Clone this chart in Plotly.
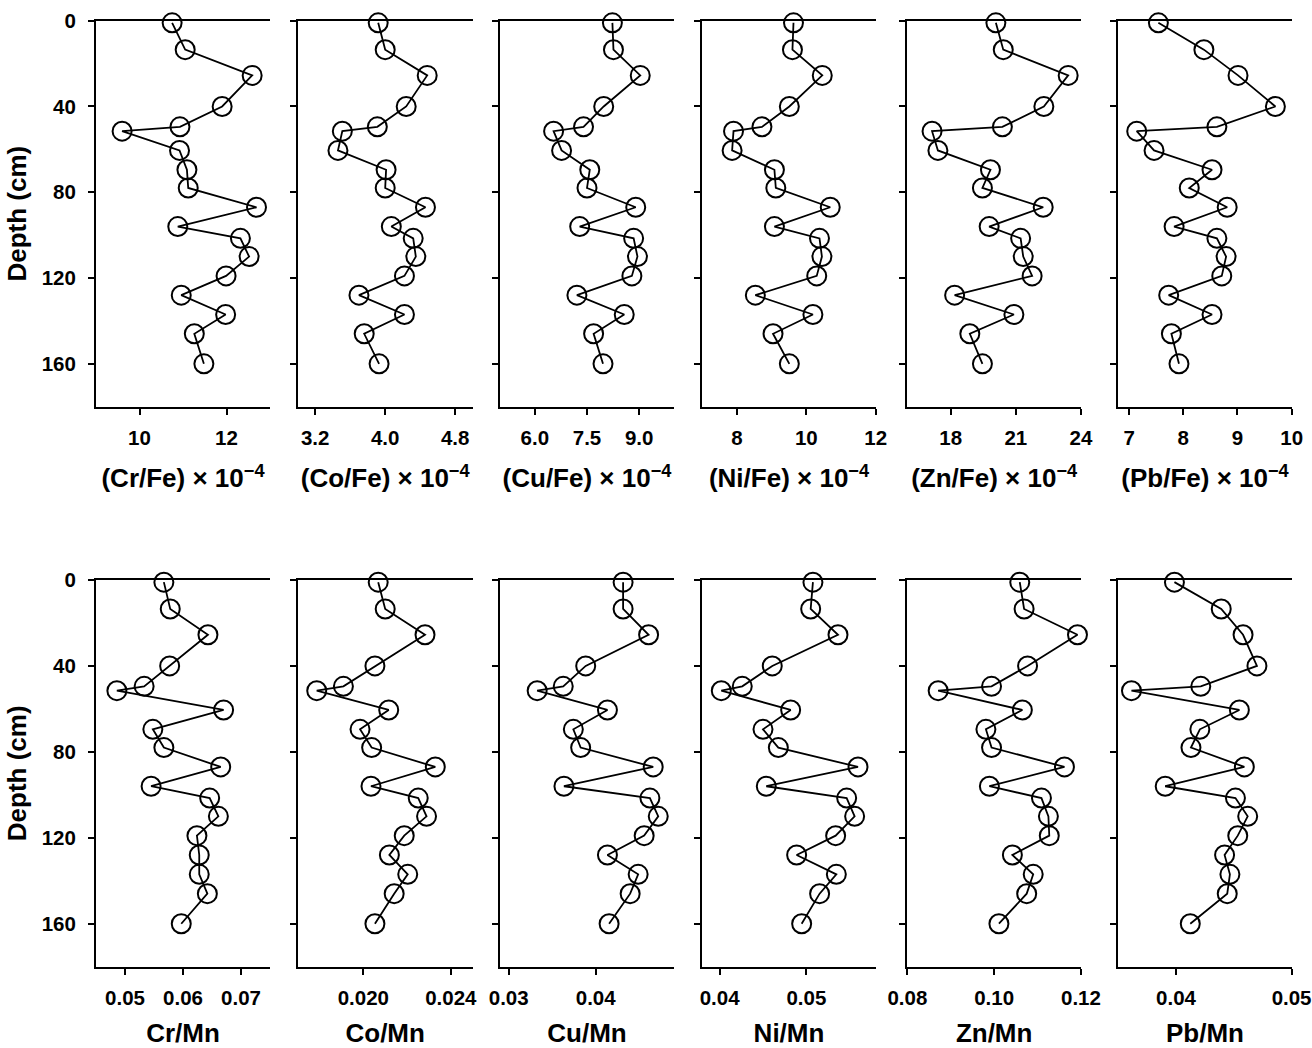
import plotly.graph_objects as go

# ---------------- data ----------------
depth = [1, 13.5, 25.5, 40, 49.5, 51.5, 60.5, 69.5, 78, 87, 96, 101.5, 110, 119, 128, 137, 146, 160]

cr_fe = [10.75, 11.05, 12.59, 11.90, 10.93, 9.60, 10.92, 11.09, 11.12, 12.69, 10.88, 12.32, 12.52, 11.99, 10.96, 11.98, 11.26, 11.48]
co_fe = [3.92, 4.00, 4.48, 4.24, 3.91, 3.51, 3.46, 4.01, 4.00, 4.46, 4.07, 4.32, 4.35, 4.22, 3.70, 4.22, 3.76, 3.93]
cu_fe = [8.23, 8.26, 9.03, 7.98, 7.40, 6.54, 6.77, 7.58, 7.50, 8.90, 7.29, 8.84, 8.95, 8.79, 7.21, 8.57, 7.69, 7.96]
ni_fe = [9.63, 9.60, 10.46, 9.51, 8.72, 7.90, 7.86, 9.08, 9.12, 10.69, 9.08, 10.38, 10.45, 10.30, 8.53, 10.19, 9.04, 9.51]
zn_fe = [20.08, 20.42, 23.41, 22.29, 20.38, 17.14, 17.41, 19.83, 19.46, 22.26, 19.77, 21.22, 21.34, 21.75, 18.18, 20.91, 18.88, 19.46]
pb_fe = [7.54, 8.38, 9.01, 9.70, 8.62, 7.14, 7.46, 8.53, 8.11, 8.81, 7.83, 8.62, 8.79, 8.71, 7.73, 8.53, 7.78, 7.92]

cr_mn = [0.0567, 0.0578, 0.0643, 0.0577, 0.0533, 0.0486, 0.0670, 0.0548, 0.0567, 0.0665, 0.0545, 0.0646, 0.0661, 0.0624, 0.0628, 0.0628, 0.0642, 0.0597]
co_mn = [0.02068, 0.02100, 0.02282, 0.02053, 0.01909, 0.01787, 0.02116, 0.01985, 0.02038, 0.02329, 0.02035, 0.02251, 0.02289, 0.02187, 0.02119, 0.02203, 0.02141, 0.02053]
cu_mn = [0.04315, 0.04315, 0.04608, 0.03885, 0.03627, 0.03327, 0.04135, 0.03743, 0.03827, 0.04661, 0.03635, 0.04623, 0.04719, 0.04557, 0.04135, 0.04488, 0.04396, 0.04154]
ni_mn = [0.05076, 0.05050, 0.05365, 0.04607, 0.04261, 0.04019, 0.04819, 0.04500, 0.04677, 0.05596, 0.04538, 0.05465, 0.05557, 0.05338, 0.04888, 0.05346, 0.05153, 0.04946]
zn_mn = [0.1059, 0.1069, 0.1192, 0.1077, 0.0994, 0.0871, 0.1065, 0.0981, 0.0994, 0.1162, 0.0989, 0.1109, 0.1125, 0.1127, 0.1042, 0.1090, 0.1075, 0.1011]
pb_mn = [0.03986, 0.04391, 0.04580, 0.04700, 0.04214, 0.03614, 0.04548, 0.04206, 0.04129, 0.04591, 0.03906, 0.04514, 0.04620, 0.04534, 0.04420, 0.04466, 0.04443, 0.04123]

series = [cr_fe, co_fe, cu_fe, ni_fe, zn_fe, pb_fe, cr_mn, co_mn, cu_mn, ni_mn, zn_mn, pb_mn]

sup = "<sup>\u22124</sup>"
x_titles = ["(Cr/Fe) \u00d7 10" + sup, "(Co/Fe) \u00d7 10" + sup, "(Cu/Fe) \u00d7 10" + sup,
            "(Ni/Fe) \u00d7 10" + sup, "(Zn/Fe) \u00d7 10" + sup, "(Pb/Fe) \u00d7 10" + sup,
            "Cr/Mn", "Co/Mn", "Cu/Mn", "Ni/Mn", "Zn/Mn", "Pb/Mn"]

x_ranges = [[9, 13], [3.0, 5.0], [5, 10], [7, 12.001], [16, 24.001], [6.8, 10.001],
            [0.045, 0.075], [0.017, 0.025], [0.029, 0.049], [0.038, 0.058], [0.07999, 0.12001], [0.035, 0.05001]]
x_tickvals = [[10, 12], [3.2, 4.0, 4.8], [6.0, 7.5, 9.0], [8, 10, 12], [18, 21, 24], [7, 8, 9, 10],
              [0.05, 0.06, 0.07], [0.020, 0.024], [0.03, 0.04], [0.04, 0.05], [0.08, 0.10, 0.12], [0.04, 0.05]]
x_ticktext = [["10", "12"], ["3.2", "4.0", "4.8"], ["6.0", "7.5", "9.0"], ["8", "10", "12"], ["18", "21", "24"], ["7", "8", "9", "10"],
              ["0.05", "0.06", "0.07"], ["0.020", "0.024"], ["0.03", "0.04"], ["0.04", "0.05"], ["0.08", "0.10", "0.12"], ["0.04", "0.05"]]

depth_ticks = [0, 40, 80, 120, 160]

# ---------------- layout geometry (pixels) ----------------
W, H = 1312, 1048
col_px = [(96, 270), (297.7, 472.7), (500, 674), (702.3, 875.7), (907.3, 1081), (1118.3, 1291.7)]
row_px = [(20.7, 406.7), (580, 966.7)]
title_standoff = [21, 25]

FONT = "Liberation Sans, Arial, sans-serif"
tickfont = dict(family=FONT, size=20.5, color="black", weight="bold")
titlefont = dict(family=FONT, size=26, color="black", weight="bold")

fig = go.Figure()
layout = dict(width=W, height=H, margin=dict(l=0, r=0, t=0, b=0, autoexpand=False),
              paper_bgcolor="white", plot_bgcolor="white", showlegend=False)

for i, xs in enumerate(series):
    r, c = divmod(i, 6)
    n = i + 1
    xa = "x" if n == 1 else f"x{n}"
    ya = "y" if n == 1 else f"y{n}"
    fig.add_trace(go.Scatter(
        x=xs, y=depth, xaxis=xa, yaxis=ya, mode="lines+markers",
        line=dict(color="black", width=1.8),
        marker=dict(symbol="circle-open", size=19, color="black", line=dict(width=2, color="black")),
        cliponaxis=False,
    ))
    x0, x1 = col_px[c]
    y0, y1 = row_px[r]
    xkey = "xaxis" if n == 1 else f"xaxis{n}"
    ykey = "yaxis" if n == 1 else f"yaxis{n}"
    layout[xkey] = dict(
        domain=[x0 / W, x1 / W], anchor=ya, range=x_ranges[i], automargin=False,
        tickmode="array", tickvals=x_tickvals[i], ticktext=x_ticktext[i],
        showline=True, mirror=True, linecolor="black", linewidth=2,
        ticks="outside", ticklen=6, tickwidth=2, tickcolor="black",
        showgrid=False, zeroline=False, tickfont=tickfont, ticklabelstandoff=6,
        title=dict(text=x_titles[i], font=titlefont, standoff=title_standoff[r]),
    )
    ydict = dict(
        domain=[1 - y1 / H, 1 - y0 / H], anchor=xa, range=[180, 0], automargin=False,
        tickmode="array", tickvals=depth_ticks,
        showline=True, mirror=False, linecolor="black", linewidth=2,
        ticks="outside", ticklen=6, tickwidth=2, tickcolor="black",
        showgrid=False, zeroline=False, tickfont=tickfont,
        showticklabels=(c == 0), ticklabelstandoff=8,
    )
    if c == 0:
        ydict["title"] = dict(text="Depth (cm)", font=titlefont, standoff=8)
    layout[ykey] = ydict

fig.update_layout(**layout)
fig.write_html("out.html")
